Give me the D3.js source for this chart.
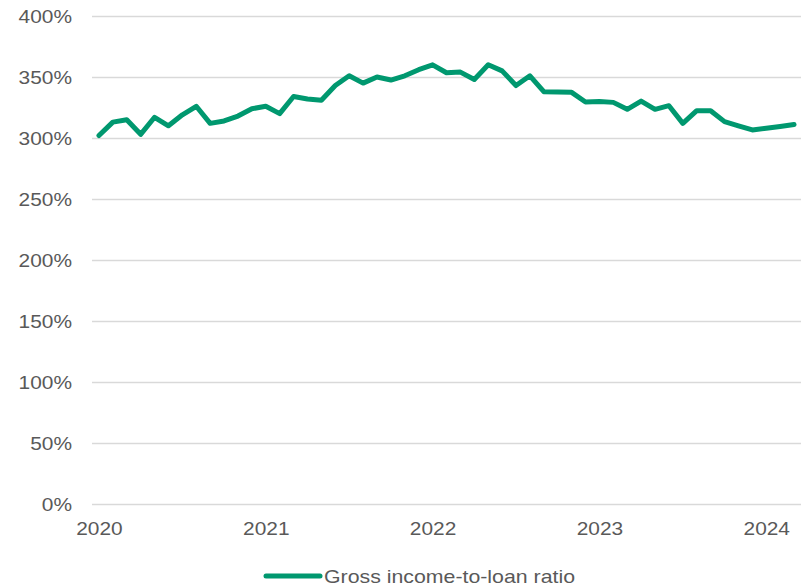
<!DOCTYPE html>
<html>
<head>
<meta charset="utf-8">
<script src="https://cdn.jsdelivr.net/npm/d3@7"></script>
<style>
  html, body { margin: 0; padding: 0; background: #ffffff; }
  svg { display: block; }
  text { font-family: "Liberation Sans", Arial, sans-serif; fill: #595959; }
</style>
</head>
<body>
<svg id="chart" width="808" height="587"></svg>
<script>
// Monthly observations, Jan 2020 – Mar 2024
const months = [
  "2020-01","2020-02","2020-03","2020-04","2020-05","2020-06","2020-07","2020-08","2020-09","2020-10","2020-11","2020-12",
  "2021-01","2021-02","2021-03","2021-04","2021-05","2021-06","2021-07","2021-08","2021-09","2021-10","2021-11","2021-12",
  "2022-01","2022-02","2022-03","2022-04","2022-05","2022-06","2022-07","2022-08","2022-09","2022-10","2022-11","2022-12",
  "2023-01","2023-02","2023-03","2023-04","2023-05","2023-06","2023-07","2023-08","2023-09","2023-10","2023-11","2023-12",
  "2024-01","2024-02","2024-03"
];

// Gross income-to-loan ratio, percent
const incomeToLoan = [
  302, 313, 315, 303, 317, 310, 319, 326, 312, 314, 318, 324,
  326, 320, 334, 332, 331, 343, 351, 345, 350, 347.5, 351, 356,
  360, 353.5, 354, 348, 360, 355, 343, 351, 338, 337.8, 337.4, 329.5,
  330, 329.2, 323.5, 330.3, 323.5, 326.5, 312, 322.4, 322.4, 313.4, 310, 306.6,
  308, 309.4, 311
];

const yTicks = [0, 50, 100, 150, 200, 250, 300, 350, 400];
const xTickMonths = ["2020-01", "2021-01", "2022-01", "2023-01", "2024-01"];
const seriesName = "Gross income-to-loan ratio";

const lineColor = "#00986f";
const gridColor = "#d9d9d9";
const textStretch = 1.13;

const svg = d3.select("#chart");
const plot = { left: 92, right: 801, top: 16, bottom: 504 };

const x = d3.scalePoint()
  .domain(months)
  .range([plot.left, plot.right])
  .padding(0.5);

const y = d3.scaleLinear()
  .domain([0, 400])
  .range([plot.bottom, plot.top]);

// Horizontal gridlines with percentage labels
const yAxis = svg.append("g")
  .attr("transform", `translate(${plot.left},0)`)
  .call(d3.axisLeft(y)
    .tickValues(yTicks)
    .tickSize(-(plot.right - plot.left))
    .tickFormat(d => d + "%"));
yAxis.select(".domain").remove();
yAxis.selectAll(".tick line")
  .attr("stroke", gridColor)
  .attr("stroke-width", 1.4);
yAxis.selectAll(".tick text")
  .attr("x", 0)
  .attr("dy", "0.35em")
  .attr("text-anchor", "end")
  .attr("transform", `translate(-20,0) scale(${textStretch},1)`)
  .style("font-size", "18.5px")
  .style("fill", "#595959");

// Year labels under January of each year
const xAxis = svg.append("g")
  .attr("transform", `translate(0,${plot.bottom})`)
  .call(d3.axisBottom(x)
    .tickValues(xTickMonths)
    .tickSize(0)
    .tickFormat(d => d.slice(0, 4)));
xAxis.select(".domain").remove();
xAxis.selectAll(".tick text")
  .attr("y", 0)
  .attr("dy", 0)
  .attr("text-anchor", "middle")
  .attr("transform", `translate(0,31) scale(${textStretch},1)`)
  .style("font-size", "18.5px")
  .style("fill", "#595959");

// Series line
const line = d3.line()
  .x((d, i) => x(months[i]))
  .y(d => y(d));

svg.append("path")
  .datum(incomeToLoan)
  .attr("d", line)
  .attr("fill", "none")
  .attr("stroke", lineColor)
  .attr("stroke-width", 5)
  .attr("stroke-linejoin", "round")
  .attr("stroke-linecap", "round");

// Legend
const legend = svg.append("g").attr("transform", "translate(266,576)");
legend.append("line")
  .attr("x1", 0).attr("x2", 54)
  .attr("y1", 0).attr("y2", 0)
  .attr("stroke", lineColor)
  .attr("stroke-width", 5)
  .attr("stroke-linecap", "round");
legend.append("text")
  .attr("x", 58)
  .attr("y", 6.5)
  .attr("textLength", 251)
  .attr("lengthAdjust", "spacingAndGlyphs")
  .style("font-size", "18.5px")
  .text(seriesName);
</script>
</body>
</html>
